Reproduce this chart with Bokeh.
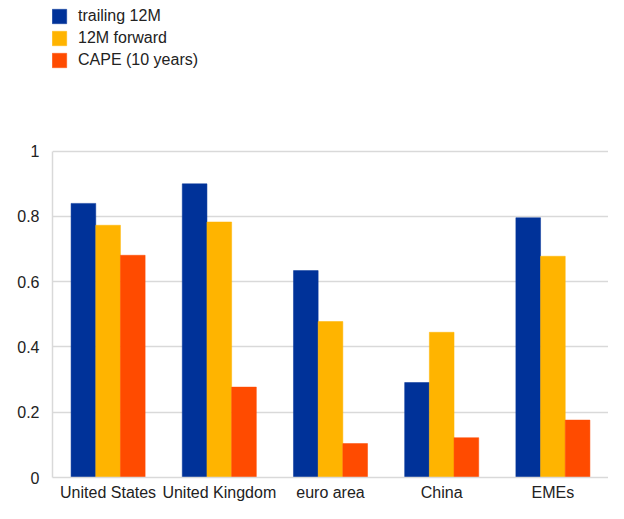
from bokeh.plotting import figure
from bokeh.models import ColumnDataSource, FactorRange, Legend, LegendItem, FixedTicker
from bokeh.transform import dodge
from bokeh.embed import file_html
from bokeh.resources import INLINE

categories = ["United States", "United Kingdom", "euro area", "China", "EMEs"]
series_names = ["trailing 12M", "12M forward", "CAPE (10 years)"]
trailing_12m = [0.840, 0.900, 0.634, 0.291, 0.796]
forward_12m = [0.773, 0.783, 0.478, 0.445, 0.678]
cape_10y = [0.681, 0.277, 0.104, 0.122, 0.176]
y_ticks = [0, 0.2, 0.4, 0.6, 0.8, 1.0]
y_tick_labels = ["0", "0.2", "0.4", "0.6", "0.8", "1"]

colors = ["#003299", "#FFB400", "#FF4B00"]
FONT = "Liberation Sans"
TXT = "#222222"

W, H = 608, 503
BOTTOM = 25
FRAME_H = H - BOTTOM
ONE_PX = 151  # pixel row (from top) where value 1 sits; headroom above holds the legend
y_end = FRAME_H / (FRAME_H - ONE_PX)

src = ColumnDataSource(dict(cat=categories, t=trailing_12m, f=forward_12m, c=cape_10y))

p = figure(x_range=FactorRange(*categories, range_padding=0), y_range=(0, y_end),
           width=W, height=H, output_backend="svg", toolbar_location=None,
           min_border_left=52, min_border_right=0, min_border_top=0, min_border_bottom=BOTTOM)
p.outline_line_color = None
p.background_fill_color = "white"
p.border_fill_color = "white"

w = 0.222
r1 = p.vbar(x=dodge("cat", -w, range=p.x_range), top="t", width=w, source=src,
            fill_color=colors[0], line_color=colors[0], line_width=0.5)
r2 = p.vbar(x=dodge("cat", 0, range=p.x_range), top="f", width=w, source=src,
            fill_color=colors[1], line_color=colors[1], line_width=0.5)
r3 = p.vbar(x=dodge("cat", w, range=p.x_range), top="c", width=w, source=src,
            fill_color=colors[2], line_color=colors[2], line_width=0.5)

p.xgrid.grid_line_color = None
p.ygrid.grid_line_color = "#d9d9d9"
p.ygrid.grid_line_width = 1.5
p.yaxis.ticker = FixedTicker(ticks=y_ticks)
p.yaxis.bounds = (0, 1)
p.yaxis.major_label_overrides = {t: l for t, l in zip(y_ticks, y_tick_labels)}

for ax in (p.xaxis[0], p.yaxis[0]):
    ax.axis_line_color = "#d9d9d9"
    ax.axis_line_width = 1.5
    ax.major_tick_line_color = None
    ax.minor_tick_line_color = None
    ax.major_tick_out = 0
    ax.major_tick_in = 0
    ax.major_label_text_font = FONT
    ax.major_label_text_font_size = "16px"
    ax.major_label_text_color = TXT
p.yaxis.major_label_standoff = 13
p.xaxis.major_label_standoff = 6

legend = Legend(items=[LegendItem(label=series_names[0], renderers=[r1]),
                       LegendItem(label=series_names[1], renderers=[r2]),
                       LegendItem(label=series_names[2], renderers=[r3])],
                location=(-2, FRAME_H - 70), orientation="vertical",
                padding=0, margin=0, spacing=4,
                glyph_width=18, glyph_height=18, label_height=18, label_standoff=10,
                border_line_color=None, background_fill_alpha=0,
                label_text_font=FONT, label_text_font_size="16px", label_text_color=TXT)
p.add_layout(legend, "center")

open("out.html", "w").write(file_html(p, INLINE))
